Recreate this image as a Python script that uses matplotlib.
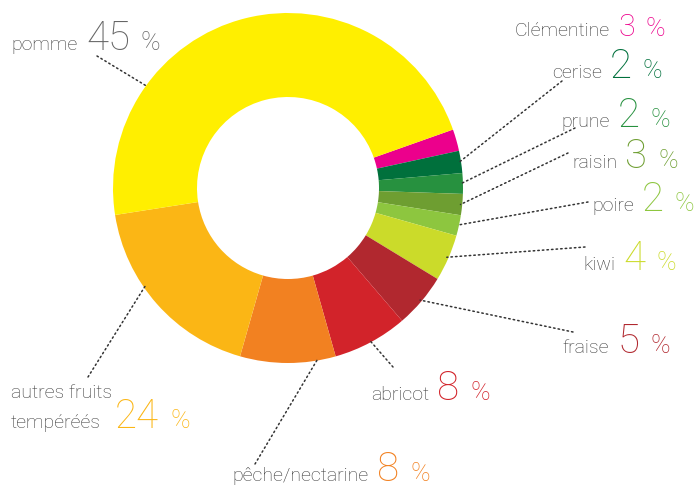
import matplotlib
matplotlib.use('Agg')
import matplotlib.pyplot as plt
import numpy as np

# slices, clockwise from the pomme / Clémentine boundary
fruits = ['Clémentine', 'cerise', 'prune', 'raisin', 'poire', 'kiwi',
          'fraise', 'abricot', 'pêche/nectarine', 'autres fruits\ntempéréés', 'pomme']
# share of the ring as drawn (%)
shares = [2.0, 2.05, 1.9, 1.95, 1.9, 4.3, 5.0, 6.9, 8.8, 18.1, 47.0]
# percentage printed in the labels
printed = [3, 2, 2, 3, 2, 4, 5, 8, 8, 24, 45]
colors = ['#EC008C', '#00703C', '#27913F', '#6E9E31', '#8DC63F', '#CBDB2A',
          '#B1282F', '#D2232A', '#F28121', '#FBB615', '#FFEF00']

GREY = '#363636'
FONT = 'Roboto'
H = 490

# label layout in image pixels: left of number, baseline, leader end
num_pos = [(618, 36), (610, 78), (618, 127), (625, 168), (642, 211), (623, 270),
           (617, 353), (437, 400), (377, 481), (115, 428), (86, 50)]
leader_end = [None, (562, 81), (575, 128), (568, 153), (588, 202), (585, 247),
              (573, 332), (393, 367), (255, 464), (88, 377), (97, 56)]
anchor_shift = {'pomme': 40, 'pêche/nectarine': 10, 'autres fruits\ntempéréés': -7}

fig = plt.figure(figsize=(6.96, 4.9), dpi=100)
# ring: centre (288, 188), radius 175 px
ax = fig.add_axes([(288 - 175) / 696, (H - 188 - 175) / H, 350 / 696, 350 / H])
wedges, _ = ax.pie(shares, colors=colors, startangle=19.5, counterclock=False,
                   radius=1, wedgeprops=dict(width=0.48, linewidth=0))
ax.set_xlim(-1, 1)
ax.set_ylim(-1, 1)
ax.set_aspect('equal')
ax.axis('off')

renderer = fig.canvas.get_renderer()

for i, name in enumerate(fruits):
    w = wedges[i]
    mid = (w.theta1 + w.theta2) / 2 + anchor_shift.get(name, 0)
    if leader_end[i] is not None:
        ex, ey = leader_end[i]
        ax.annotate('', xy=(0.99 * np.cos(np.radians(mid)), 0.99 * np.sin(np.radians(mid))),
                    xycoords='data', xytext=(ex, H - ey), textcoords='figure pixels',
                    arrowprops=dict(arrowstyle='-', color='#333333', lw=1.1,
                                    linestyle=(0, (1, 2)), shrinkA=0, shrinkB=0))

    x, y = num_pos[i]
    col = '#666666' if name == 'pomme' else colors[i]
    size = 22 if name == 'Clémentine' else 29
    num = fig.text(x, H - y, str(printed[i]), transform=None, ha='left', va='baseline',
                   fontsize=size, color=col, family=FONT, fontweight='light')
    nw = num.get_window_extent(renderer).width
    fig.text(x + nw + 11, H - y, '%', transform=None, ha='left', va='baseline',
             fontsize=19, color=col, family=FONT, fontweight='light')
    if '\n' in name:
        lines = name.split('\n')
        for k, line in enumerate(lines):
            fig.text(11, H - y + 30 * (len(lines) - 1 - k), line, transform=None,
                     ha='left', va='baseline', fontsize=14, color=GREY, family=FONT,
                     fontweight='light')
    else:
        fig.text(x - 8, H - y, name, transform=None, ha='right', va='baseline',
                 fontsize=14, color=GREY, family=FONT, fontweight='light')

fig.savefig('out.png', dpi=100)
